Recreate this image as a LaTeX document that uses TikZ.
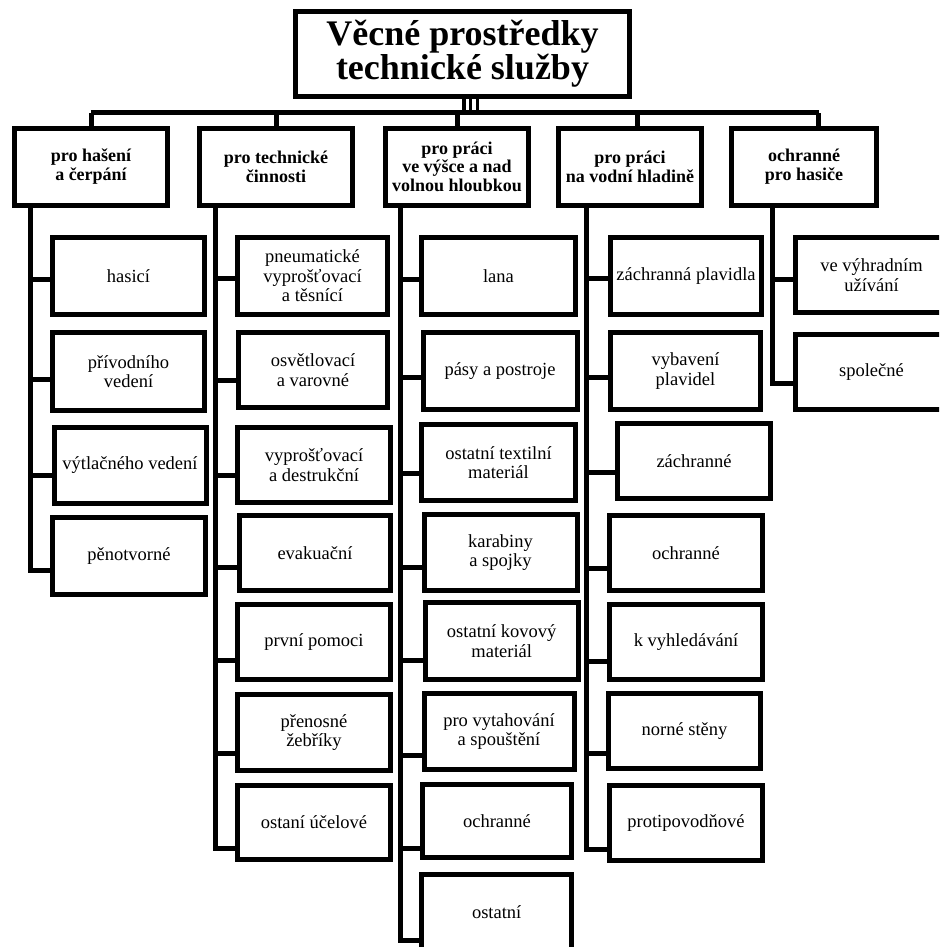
\documentclass[tikz,border=0pt]{standalone}
\usepackage{fontspec}
\setmainfont{Liberation Serif}
\begin{document}
\begin{tikzpicture}[x=1pt,y=-1pt,
  conn/.style={line width=5pt},
  tconn/.style={line width=3.5pt},
  titlebox/.style={draw, line width=5pt, minimum width=334pt, minimum height=85pt, inner sep=0pt, align=center, font=\fontsize{36}{34}\selectfont\bfseries},
  hbox/.style={draw, line width=5pt, minimum width=153pt, minimum height=76.5pt, inner sep=0pt, align=center, font=\fontsize{18}{18.7}\selectfont\bfseries},
  cbox/.style={draw, line width=5pt, minimum width=152pt, minimum height=77pt, inner sep=0pt, align=center, font=\fontsize{18.5}{19.5}\selectfont}]
\useasboundingbox (0,0) rectangle (939,947);
\clip (0,0) rectangle (939,947);

% title
\node[titlebox] (title) at (462.5,54) {Věcné prostředky\\technické služby};

% headers
\node[hbox] (h1) at (91,166.75) {pro hašení\\a čerpání};
\node[hbox] (h2) at (276,166.75) {pro technické\\činnosti};
\node[hbox, minimum width=143pt] (h3) at (457,166.75) {pro práci\\ve výšce a nad\\volnou hloubkou};
\node[hbox, minimum width=143pt] (h4) at (630,166.75) {pro práci\\na vodní hladině};
\node[hbox, minimum width=145pt] (h5) at (804,166.75) {ochranné\\pro hasiče};

% bar
\coordinate (barL) at (90.5,113);
\coordinate (barR) at (818.5,113);
\draw[conn] (barL) -- (barR);
\foreach \dx in {1.5,8,15.2} {
  \draw[tconn] ([xshift=\dx pt]title.south) -- ([xshift=\dx pt]title.south |- barL);
}
\draw[conn] (h1.north) -- (h1.north |- barL);
\draw[conn] (h2.north) -- (h2.north |- barL);
\draw[conn] (h3.north) -- (h3.north |- barL);
\draw[conn] ([xshift=7.5pt]h4.north) -- ([xshift=7.5pt]h4.north |- barL);
\draw[conn] ([xshift=14.5pt]h5.north) -- ([xshift=14.5pt]h5.north |- barL);

% column 1
\node[cbox] (c11) at (128.5,276) {hasicí};
\node[cbox, minimum height=78pt] (c12) at (128.5,371.5) {přívodního\\vedení};
\node[cbox, minimum height=76pt] (c13) at (130,465.5) {výtlačného vedení};
\node[cbox, minimum width=153pt] (c14) at (129,556) {pěnotvorné};
\coordinate (s1) at (30,205);
\draw[conn] (s1) |- (c14.west |- 0,570);
\draw[conn] (s1 |- 0,279) -- (c11.west |- 0,279);
\draw[conn] (s1 |- 0,379) -- (c12.west |- 0,379);
\draw[conn] (s1 |- 0,475) -- (c13.west |- 0,475);

% column 2
\node[cbox, minimum width=150pt] (c21) at (312.5,276) {pneumatické\\vyprošťovací\\a těsnící};
\node[cbox, minimum width=149pt, minimum height=75pt] (c22) at (313,370) {osvětlovací\\a varovné};
\node[cbox, minimum width=153pt, minimum height=75pt] (c23) at (314,465) {vyprošťovací\\a destrukční};
\node[cbox, minimum width=151pt, minimum height=75pt] (c24) at (315,553) {evakuační};
\node[cbox, minimum width=153pt, minimum height=75pt] (c25) at (314,642) {první pomoci};
\node[cbox, minimum width=153pt, minimum height=76pt] (c26) at (314,732.5) {přenosné\\žebříky};
\node[cbox, minimum width=153pt, minimum height=74pt] (c27) at (314,822.5) {ostaní účelové};
\coordinate (s2) at (215,205);
\draw[conn] (s2) |- (c27.west |- 0,848);
\draw[conn] (s2 |- 0,278) -- (c21.west |- 0,278);
\draw[conn] (s2 |- 0,380) -- (c22.west |- 0,380);
\draw[conn] (s2 |- 0,475) -- (c23.west |- 0,475);
\draw[conn] (s2 |- 0,567) -- (c24.west |- 0,567);
\draw[conn] (s2 |- 0,660) -- (c25.west |- 0,660);
\draw[conn] (s2 |- 0,753) -- (c26.west |- 0,753);

% column 3
\node[cbox, minimum width=154pt] (c31) at (498.5,276) {lana};
\node[cbox, minimum width=154pt] (c32) at (500,371) {pásy a postroje};
\node[cbox, minimum width=154pt, minimum height=76pt] (c33) at (498.5,462.5) {ostatní textilní\\materiál};
\node[cbox, minimum width=153pt, minimum height=76pt] (c34) at (500.5,552.5) {karabiny\\a spojky};
\node[cbox, minimum width=153pt] (c35) at (501.7,641) {ostatní kovový\\materiál};
\node[cbox, minimum width=150pt, minimum height=76pt] (c36) at (499,731.5) {pro vytahování\\a spouštění};
\node[cbox, minimum width=149pt, minimum height=73pt] (c37) at (497,821) {ochranné};
\node[cbox, minimum width=150pt, minimum height=75pt] (c38) at (496.7,912) {ostatní};
\coordinate (s3) at (400,205);
\draw[conn] (s3) |- (c38.west |- 0,940);
\draw[conn] (s3 |- 0,279) -- (c31.west |- 0,279);
\draw[conn] (s3 |- 0,377) -- (c32.west |- 0,377);
\draw[conn] (s3 |- 0,473) -- (c33.west |- 0,473);
\draw[conn] (s3 |- 0,567) -- (c34.west |- 0,567);
\draw[conn] (s3 |- 0,660) -- (c35.west |- 0,660);
\draw[conn] (s3 |- 0,755) -- (c36.west |- 0,755);
\draw[conn] (s3 |- 0,848) -- (c37.west |- 0,848);

% column 4
\node[cbox, minimum width=151pt] (c41) at (686,276) {záchranná plavidla};
\node[cbox, minimum width=150pt] (c42) at (685.5,371) {vybavení\\plavidel};
\node[cbox, minimum width=153pt, minimum height=75pt] (c43) at (694,461) {záchranné};
\node[cbox, minimum width=153pt, minimum height=75pt] (c44) at (686,553) {ochranné};
\node[cbox, minimum width=153pt, minimum height=75pt] (c45) at (686,642) {k vyhledávání};
\node[cbox, minimum width=152pt, minimum height=75pt] (c46) at (684.5,731) {norné stěny};
\node[cbox, minimum width=153pt, minimum height=75pt] (c47) at (686,823) {protipovodňové};
\coordinate (s4) at (586,205);
\draw[conn] (s4) |- (c47.west |- 0,849);
\draw[conn] (s4 |- 0,278) -- (c41.west |- 0,278);
\draw[conn] (s4 |- 0,377) -- (c42.west |- 0,377);
\draw[conn] (s4 |- 0,472) -- (c43.west |- 0,472);
\draw[conn] (s4 |- 0,568) -- (c44.west |- 0,568);
\draw[conn] (s4 |- 0,661) -- (c45.west |- 0,661);
\draw[conn] (s4 |- 0,753) -- (c46.west |- 0,753);

% column 5
\node[cbox, minimum height=75pt] (c51) at (871.5,275) {ve výhradním\\užívání};
\node[cbox, minimum height=75pt] (c52) at (871.5,372) {společné};
\coordinate (s5) at (772,205);
\draw[conn] (s5) |- (c52.west |- 0,383);
\draw[conn] (s5 |- 0,279) -- (c51.west |- 0,279);
\end{tikzpicture}
\end{document}
